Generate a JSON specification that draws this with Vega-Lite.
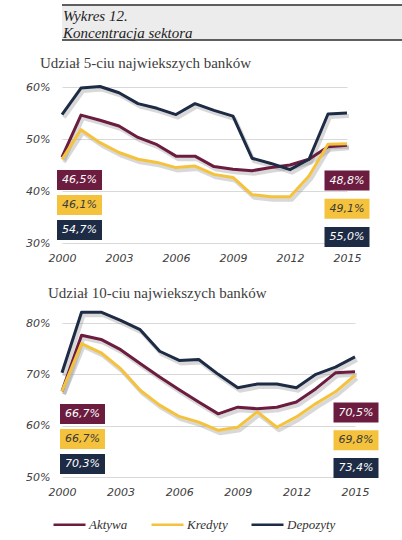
{
  "$schema": "https://vega.github.io/schema/vega-lite/v6.json",
  "padding": {"left": 6, "top": 4, "right": 10, "bottom": 5},
  "config": {
    "view": {"stroke": null},
    "font": "DejaVu Sans",
    "axis": {"labelFont": "DejaVu Sans", "labelFontStyle": "italic", "labelFontSize": 11, "labelColor": "#404040", "gridColor": "#d9d9d9", "gridWidth": 1},
    "title": {"font": "Liberation Serif", "fontSize": 15, "fontWeight": "normal", "color": "#404040"},
    "legend": {"labelFont": "Liberation Serif", "labelFontStyle": "italic", "labelFontSize": 13, "labelColor": "#333333", "symbolType": "stroke", "symbolStrokeWidth": 2.5, "symbolSize": 1024, "columnPadding": 18, "labelOffset": 2}
  },
  "datasets": {
    "s5": [
      {"year": 2000, "series": "Aktywa", "value": 46.5}, {"year": 2001, "series": "Aktywa", "value": 54.6}, {"year": 2002, "series": "Aktywa", "value": 53.6}, {"year": 2003, "series": "Aktywa", "value": 52.5},
      {"year": 2004, "series": "Aktywa", "value": 50.3}, {"year": 2005, "series": "Aktywa", "value": 48.9}, {"year": 2006, "series": "Aktywa", "value": 46.7}, {"year": 2007, "series": "Aktywa", "value": 46.7},
      {"year": 2008, "series": "Aktywa", "value": 44.7}, {"year": 2009, "series": "Aktywa", "value": 44.2}, {"year": 2010, "series": "Aktywa", "value": 43.9}, {"year": 2011, "series": "Aktywa", "value": 44.5},
      {"year": 2012, "series": "Aktywa", "value": 45.0}, {"year": 2013, "series": "Aktywa", "value": 46.1}, {"year": 2014, "series": "Aktywa", "value": 48.5}, {"year": 2015, "series": "Aktywa", "value": 48.8},
      {"year": 2000, "series": "Kredyty", "value": 46.1}, {"year": 2001, "series": "Kredyty", "value": 51.8}, {"year": 2002, "series": "Kredyty", "value": 49.3}, {"year": 2003, "series": "Kredyty", "value": 47.4},
      {"year": 2004, "series": "Kredyty", "value": 46.1}, {"year": 2005, "series": "Kredyty", "value": 45.5}, {"year": 2006, "series": "Kredyty", "value": 44.5}, {"year": 2007, "series": "Kredyty", "value": 44.8},
      {"year": 2008, "series": "Kredyty", "value": 43.2}, {"year": 2009, "series": "Kredyty", "value": 42.6}, {"year": 2010, "series": "Kredyty", "value": 39.3}, {"year": 2011, "series": "Kredyty", "value": 38.9},
      {"year": 2012, "series": "Kredyty", "value": 38.9}, {"year": 2013, "series": "Kredyty", "value": 42.9}, {"year": 2014, "series": "Kredyty", "value": 49.0}, {"year": 2015, "series": "Kredyty", "value": 49.1},
      {"year": 2000, "series": "Depozyty", "value": 54.7}, {"year": 2001, "series": "Depozyty", "value": 59.8}, {"year": 2002, "series": "Depozyty", "value": 60.1}, {"year": 2003, "series": "Depozyty", "value": 58.9},
      {"year": 2004, "series": "Depozyty", "value": 56.8}, {"year": 2005, "series": "Depozyty", "value": 55.9}, {"year": 2006, "series": "Depozyty", "value": 54.7}, {"year": 2007, "series": "Depozyty", "value": 56.8},
      {"year": 2008, "series": "Depozyty", "value": 55.5}, {"year": 2009, "series": "Depozyty", "value": 54.4}, {"year": 2010, "series": "Depozyty", "value": 46.3}, {"year": 2011, "series": "Depozyty", "value": 45.3},
      {"year": 2012, "series": "Depozyty", "value": 44.1}, {"year": 2013, "series": "Depozyty", "value": 46.1}, {"year": 2014, "series": "Depozyty", "value": 54.8}, {"year": 2015, "series": "Depozyty", "value": 55.0}
    ],
    "s10": [
      {"year": 2000, "series": "Aktywa", "value": 66.7}, {"year": 2001, "series": "Aktywa", "value": 77.6}, {"year": 2002, "series": "Aktywa", "value": 76.8}, {"year": 2003, "series": "Aktywa", "value": 74.8},
      {"year": 2004, "series": "Aktywa", "value": 72.1}, {"year": 2005, "series": "Aktywa", "value": 69.5}, {"year": 2006, "series": "Aktywa", "value": 67.0}, {"year": 2007, "series": "Aktywa", "value": 64.6},
      {"year": 2008, "series": "Aktywa", "value": 62.3}, {"year": 2009, "series": "Aktywa", "value": 63.6}, {"year": 2010, "series": "Aktywa", "value": 63.3}, {"year": 2011, "series": "Aktywa", "value": 63.6},
      {"year": 2012, "series": "Aktywa", "value": 64.6}, {"year": 2013, "series": "Aktywa", "value": 67.2}, {"year": 2014, "series": "Aktywa", "value": 70.3}, {"year": 2015, "series": "Aktywa", "value": 70.5},
      {"year": 2000, "series": "Kredyty", "value": 66.7}, {"year": 2001, "series": "Kredyty", "value": 76.0}, {"year": 2002, "series": "Kredyty", "value": 74.2}, {"year": 2003, "series": "Kredyty", "value": 71.1},
      {"year": 2004, "series": "Kredyty", "value": 66.9}, {"year": 2005, "series": "Kredyty", "value": 64.0}, {"year": 2006, "series": "Kredyty", "value": 61.8}, {"year": 2007, "series": "Kredyty", "value": 60.7},
      {"year": 2008, "series": "Kredyty", "value": 59.1}, {"year": 2009, "series": "Kredyty", "value": 59.7}, {"year": 2010, "series": "Kredyty", "value": 62.7}, {"year": 2011, "series": "Kredyty", "value": 59.7},
      {"year": 2012, "series": "Kredyty", "value": 61.7}, {"year": 2013, "series": "Kredyty", "value": 64.3}, {"year": 2014, "series": "Kredyty", "value": 66.6}, {"year": 2015, "series": "Kredyty", "value": 69.8},
      {"year": 2000, "series": "Depozyty", "value": 70.3}, {"year": 2001, "series": "Depozyty", "value": 82.1}, {"year": 2002, "series": "Depozyty", "value": 82.1}, {"year": 2003, "series": "Depozyty", "value": 80.5},
      {"year": 2004, "series": "Depozyty", "value": 78.7}, {"year": 2005, "series": "Depozyty", "value": 74.5}, {"year": 2006, "series": "Depozyty", "value": 72.7}, {"year": 2007, "series": "Depozyty", "value": 72.9},
      {"year": 2008, "series": "Depozyty", "value": 70.0}, {"year": 2009, "series": "Depozyty", "value": 67.4}, {"year": 2010, "series": "Depozyty", "value": 68.1}, {"year": 2011, "series": "Depozyty", "value": 68.1},
      {"year": 2012, "series": "Depozyty", "value": 67.4}, {"year": 2013, "series": "Depozyty", "value": 70.0}, {"year": 2014, "series": "Depozyty", "value": 71.4}, {"year": 2015, "series": "Depozyty", "value": 73.4}
    ],
    "labels": [
      {"chart": "5", "year": 2000, "series": "Aktywa", "label": "46,5%"},
      {"chart": "5", "year": 2000, "series": "Kredyty", "label": "46,1%"},
      {"chart": "5", "year": 2000, "series": "Depozyty", "label": "54,7%"},
      {"chart": "5", "year": 2015, "series": "Aktywa", "label": "48,8%"},
      {"chart": "5", "year": 2015, "series": "Kredyty", "label": "49,1%"},
      {"chart": "5", "year": 2015, "series": "Depozyty", "label": "55,0%"},
      {"chart": "10", "year": 2000, "series": "Aktywa", "label": "66,7%"},
      {"chart": "10", "year": 2000, "series": "Kredyty", "label": "66,7%"},
      {"chart": "10", "year": 2000, "series": "Depozyty", "label": "70,3%"},
      {"chart": "10", "year": 2015, "series": "Aktywa", "label": "70,5%"},
      {"chart": "10", "year": 2015, "series": "Kredyty", "label": "69,8%"},
      {"chart": "10", "year": 2015, "series": "Depozyty", "label": "73,4%"}
    ]
  },
  "spacing": 15,
  "vconcat": [
    {
      "width": 381,
      "height": 35,
      "view": {"fill": "#ececec", "stroke": null},
      "data": {"values": [{"line": 1, "text": "Wykres 12."}, {"line": 2, "text": "Koncentracja sektora"}]},
      "layer": [
        {
          "mark": {"type": "text", "align": "left", "baseline": "middle", "font": "Liberation Serif", "fontStyle": "italic", "fontSize": 15, "color": "#222222", "dx": 1},
          "encoding": {
            "x": {"datum": 0, "type": "quantitative", "scale": {"domain": [0, 1]}, "axis": null},
            "y": {"field": "line", "type": "quantitative", "scale": {"domain": [0.4, 2.4], "reverse": true}, "axis": null},
            "text": {"field": "text"}
          }
        },
        {"mark": {"type": "rule", "color": "#555555", "strokeWidth": 1.5}, "encoding": {"y": {"datum": 0.4}}},
        {"mark": {"type": "rule", "color": "#555555", "strokeWidth": 1.5}, "encoding": {"y": {"datum": 2.4}}}
      ]
    },
    {
      "spacing": 22,
      "vconcat": [
        {
          "width": 285,
          "height": 156,
          "title": {"text": "Udział 5-ciu najwiekszych banków", "anchor": "start", "frame": "group", "dx": -22, "offset": 10},
          "layer": [
            {
              "data": {"name": "s5"},
              "encoding": {
                "x": {"field": "year", "type": "quantitative", "scale": {"domain": [2000, 2015], "nice": false, "zero": false}, "axis": {"values": [2000, 2003, 2006, 2009, 2012, 2015], "format": "d", "grid": false, "domain": false, "ticks": false, "labelPadding": 9, "title": null, "labelFlush": false}},
                "y": {"field": "value", "type": "quantitative", "scale": {"domain": [30, 60], "nice": false, "zero": false}, "axis": {"values": [30, 40, 50, 60], "labelExpr": "datum.value + '%'", "grid": true, "domain": false, "ticks": false, "labelPadding": 12, "title": " ", "titleFontSize": 1, "titlePadding": 0, "minExtent": 55, "maxExtent": 55}}
              },
              "layer": [
                {"mark": {"type": "line", "color": "#8f8f8f", "opacity": 0.35, "strokeWidth": 4, "xOffset": 2, "yOffset": 3, "strokeJoin": "round"}, "encoding": {"detail": {"field": "series"}}},
                {"mark": {"type": "line", "strokeWidth": 3, "strokeJoin": "round"}, "encoding": {"color": {"field": "series", "type": "nominal", "scale": {"domain": ["Aktywa", "Kredyty", "Depozyty"], "range": ["#6b1c3f", "#f4c23c", "#1d2b45"]}, "legend": {"orient": "none", "legendX": -10, "legendY": 502, "direction": "horizontal", "title": null}}}}
              ]
            },
            {
              "data": {"name": "labels"},
              "transform": [{"filter": "datum.chart === '5' && datum.year === 2000"}],
              "encoding": {
                "x": {"field": "year", "type": "quantitative", "scale": {"domain": [2000, 2015], "nice": false, "zero": false}, "axis": {"values": [2000, 2003, 2006, 2009, 2012, 2015], "format": "d", "grid": false, "domain": false, "ticks": false, "labelPadding": 9, "title": null, "labelFlush": false}},
                "y": {"field": "series", "type": "nominal", "scale": {"type": "point", "padding": 0, "domain": ["Aktywa", "Kredyty", "Depozyty"], "range": [93, 143]}, "axis": null}
              },
              "layer": [
                {"mark": {"type": "point", "shape": "M-2.25,-1L2.25,-1L2.25,1L-2.25,1Z", "size": 400, "filled": true, "opacity": 1, "strokeWidth": 0, "xOffset": 17.5}, "encoding": {"fill": {"field": "series", "type": "nominal", "scale": {"domain": ["Aktywa", "Kredyty", "Depozyty"], "range": ["#6b1c3f", "#f4c23c", "#1d2b45"]}, "legend": null}}},
                {"mark": {"type": "text", "fontStyle": "italic", "fontSize": 11, "font": "DejaVu Sans", "xOffset": 17.5}, "encoding": {"text": {"field": "label"}, "color": {"condition": {"test": "datum.series === 'Kredyty'", "value": "#3a3a3a"}, "value": "#ffffff"}}}
              ]
            },
            {
              "data": {"name": "labels"},
              "transform": [{"filter": "datum.chart === '5' && datum.year === 2015"}],
              "encoding": {
                "x": {"field": "year", "type": "quantitative", "scale": {"domain": [2000, 2015], "nice": false, "zero": false}, "axis": {"values": [2000, 2003, 2006, 2009, 2012, 2015], "format": "d", "grid": false, "domain": false, "ticks": false, "labelPadding": 9, "title": null, "labelFlush": false}},
                "y": {"field": "series", "type": "nominal", "scale": {"type": "point", "padding": 0, "domain": ["Aktywa", "Kredyty", "Depozyty"], "range": [93.5, 150]}, "axis": null}
              },
              "layer": [
                {"mark": {"type": "point", "shape": "M-2.25,-1L2.25,-1L2.25,1L-2.25,1Z", "size": 400, "filled": true, "opacity": 1, "strokeWidth": 0, "xOffset": 0}, "encoding": {"fill": {"field": "series", "type": "nominal", "scale": {"domain": ["Aktywa", "Kredyty", "Depozyty"], "range": ["#6b1c3f", "#f4c23c", "#1d2b45"]}, "legend": null}}},
                {"mark": {"type": "text", "fontStyle": "italic", "fontSize": 11, "font": "DejaVu Sans", "xOffset": 0}, "encoding": {"text": {"field": "label"}, "color": {"condition": {"test": "datum.series === 'Kredyty'", "value": "#3a3a3a"}, "value": "#ffffff"}}}
              ]
            }
          ],
          "resolve": {"scale": {"y": "independent"}}
        },
        {
          "width": 293,
          "height": 154,
          "title": {"text": "Udział 10-ciu najwiekszych banków", "anchor": "start", "frame": "group", "dx": -14, "offset": 10},
          "layer": [
            {
              "data": {"name": "s10"},
              "encoding": {
                "x": {"field": "year", "type": "quantitative", "scale": {"domain": [2000, 2015], "nice": false, "zero": false}, "axis": {"values": [2000, 2003, 2006, 2009, 2012, 2015], "format": "d", "grid": false, "domain": false, "ticks": false, "labelPadding": 9, "title": null, "labelFlush": false}},
                "y": {"field": "value", "type": "quantitative", "scale": {"domain": [50, 80], "nice": false, "zero": false}, "axis": {"values": [50, 60, 70, 80], "labelExpr": "datum.value + '%'", "grid": true, "domain": false, "ticks": false, "labelPadding": 12, "title": " ", "titleFontSize": 1, "titlePadding": 0, "minExtent": 45, "maxExtent": 45}}
              },
              "layer": [
                {"mark": {"type": "line", "color": "#8f8f8f", "opacity": 0.35, "strokeWidth": 4, "xOffset": 2, "yOffset": 3, "strokeJoin": "round"}, "encoding": {"detail": {"field": "series"}}},
                {"mark": {"type": "line", "strokeWidth": 3, "strokeJoin": "round"}, "encoding": {"color": {"field": "series", "type": "nominal", "scale": {"domain": ["Aktywa", "Kredyty", "Depozyty"], "range": ["#6b1c3f", "#f4c23c", "#1d2b45"]}, "legend": {"orient": "none", "legendX": -10, "legendY": 502, "direction": "horizontal", "title": null}}}}
              ]
            },
            {
              "data": {"name": "labels"},
              "transform": [{"filter": "datum.chart === '10' && datum.year === 2000"}],
              "encoding": {
                "x": {"field": "year", "type": "quantitative", "scale": {"domain": [2000, 2015], "nice": false, "zero": false}, "axis": {"values": [2000, 2003, 2006, 2009, 2012, 2015], "format": "d", "grid": false, "domain": false, "ticks": false, "labelPadding": 9, "title": null, "labelFlush": false}},
                "y": {"field": "series", "type": "nominal", "scale": {"type": "point", "padding": 0, "domain": ["Aktywa", "Kredyty", "Depozyty"], "range": [91, 141]}, "axis": null}
              },
              "layer": [
                {"mark": {"type": "point", "shape": "M-2.25,-1L2.25,-1L2.25,1L-2.25,1Z", "size": 400, "filled": true, "opacity": 1, "strokeWidth": 0, "xOffset": 20.5}, "encoding": {"fill": {"field": "series", "type": "nominal", "scale": {"domain": ["Aktywa", "Kredyty", "Depozyty"], "range": ["#6b1c3f", "#f4c23c", "#1d2b45"]}, "legend": null}}},
                {"mark": {"type": "text", "fontStyle": "italic", "fontSize": 11, "font": "DejaVu Sans", "xOffset": 20.5}, "encoding": {"text": {"field": "label"}, "color": {"condition": {"test": "datum.series === 'Kredyty'", "value": "#3a3a3a"}, "value": "#ffffff"}}}
              ]
            },
            {
              "data": {"name": "labels"},
              "transform": [{"filter": "datum.chart === '10' && datum.year === 2015"}],
              "encoding": {
                "x": {"field": "year", "type": "quantitative", "scale": {"domain": [2000, 2015], "nice": false, "zero": false}, "axis": {"values": [2000, 2003, 2006, 2009, 2012, 2015], "format": "d", "grid": false, "domain": false, "ticks": false, "labelPadding": 9, "title": null, "labelFlush": false}},
                "y": {"field": "series", "type": "nominal", "scale": {"type": "point", "padding": 0, "domain": ["Aktywa", "Kredyty", "Depozyty"], "range": [89.5, 145]}, "axis": null}
              },
              "layer": [
                {"mark": {"type": "point", "shape": "M-2.25,-1L2.25,-1L2.25,1L-2.25,1Z", "size": 400, "filled": true, "opacity": 1, "strokeWidth": 0, "xOffset": 1}, "encoding": {"fill": {"field": "series", "type": "nominal", "scale": {"domain": ["Aktywa", "Kredyty", "Depozyty"], "range": ["#6b1c3f", "#f4c23c", "#1d2b45"]}, "legend": null}}},
                {"mark": {"type": "text", "fontStyle": "italic", "fontSize": 11, "font": "DejaVu Sans", "xOffset": 1}, "encoding": {"text": {"field": "label"}, "color": {"condition": {"test": "datum.series === 'Kredyty'", "value": "#3a3a3a"}, "value": "#ffffff"}}}
              ]
            }
          ],
          "resolve": {"scale": {"y": "independent"}}
        }
      ]
    }
  ]
}
